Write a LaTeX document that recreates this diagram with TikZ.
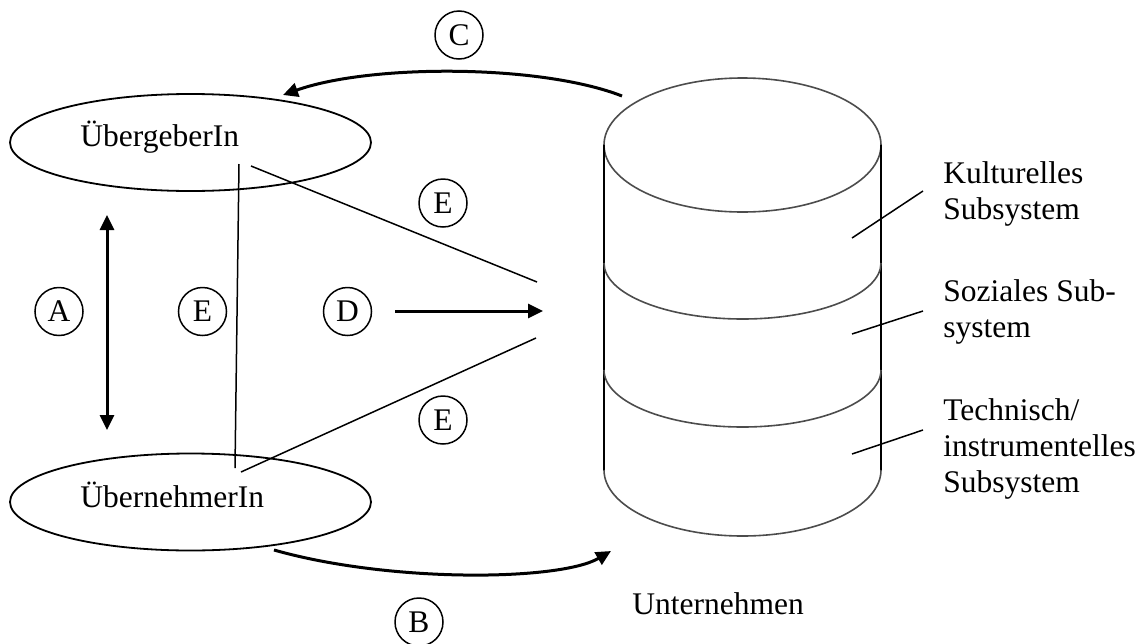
\documentclass[tikz,border=0pt]{standalone}
\usepackage{fontspec}
\setmainfont{Liberation Serif}
\usetikzlibrary{arrows.meta,shapes.geometric}

\begin{document}
\begin{tikzpicture}[x=0.5pt,y=-0.5pt,font=\fontsize{15.75}{18}\selectfont,
  party/.style={ellipse,draw,line width=0.9pt,minimum width=180.5pt,minimum height=48.5pt,inner sep=0pt},
  letter/.style={circle,draw,line width=0.75pt,minimum size=24pt,inner sep=0pt},
  txt/.style={anchor=base west,inner sep=0pt,align=left},
  tip/.tip={Triangle[length=7.5pt,width=7pt]},
  flow/.style={line width=1.5pt,-tip},
  link/.style={line width=0.75pt},
  rim/.style={black!70,line width=0.8pt}]
\useasboundingbox (0,0) rectangle (1141,643);

\node[party] (geber) at (190.5,142.5) {};
\node[txt] (geberlbl) at (80,146) {ÜbergeberIn};
\node[party] (nehmer) at (190.5,502) {};
\node[txt] (nehmerlbl) at (80,507) {ÜbernehmerIn};

\draw[rim] (742.5,145) ellipse [x radius=69.25pt,y radius=33.5pt];
\draw[line width=0.9pt] (604,145) -- (604,470) (881,145) -- (881,470);
\draw[rim] (604,263) arc[start angle=180,end angle=360,x radius=69.25pt,y radius=28pt];
\draw[rim] (604,370) arc[start angle=180,end angle=360,x radius=69.25pt,y radius=28.5pt];
\draw[rim] (604,470) arc[start angle=180,end angle=360,x radius=69.25pt,y radius=33pt];
\node[txt] (firm) at (632,614) {Unternehmen};

% base of a multi-line node sits on its last line
\node[txt] (kult) at (943,219) {Kulturelles\\Subsystem};
\node[txt] (sozial) at (943,337) {Soziales Sub-\\system};
\node[txt] (technik) at (943,492) {Technisch/\\instrumentelles\\Subsystem};
\coordinate (kultin) at (852,238);
\coordinate (sozialin) at (852,334);
\coordinate (technikin) at (852,454);
\draw[link] (kultin) -- (923,191);
\draw[link] (sozialin) -- (923,311);
\draw[link] (technikin) -- (923,430);

\node[letter] (a) at (59,311.5) {A};
\node[letter] (e1) at (202.5,311.5) {E};
\node[letter] (d) at (347.5,311.5) {D};
\node[letter] (c) at (459,35) {C};
\node[letter] (e2) at (443,203) {E};
\node[letter] (e3) at (443,420) {E};
\node[letter] (b) at (419,622) {B};

\coordinate (atop) at (107,215);
\coordinate (abot) at (107,430);
\coordinate (cfrom) at (622,96);
\coordinate (cto) at (283,95);
\coordinate (bfrom) at (274,550);
\coordinate (bto) at (611,551);
\coordinate (dfrom) at (395,311);
\coordinate (dto) at (543,311);
\coordinate (gout) at (239,164);
\coordinate (gout2) at (251,166);
\coordinate (nin) at (235,468);
\coordinate (nout) at (241,472);
\coordinate (fup) at (537,282);
\coordinate (flow) at (536,338);

\draw[line width=1.5pt,tip-tip] (atop) -- (abot);
\draw[flow] (cfrom) .. controls (540,64) and (370,64) .. (cto);
\draw[flow] (bfrom) .. controls (390,583) and (560,581) .. (bto);
\draw[flow] (dfrom) -- (dto);
\draw[link] (gout) -- (nin);
\draw[link] (gout2) -- (fup);
\draw[link] (nout) -- (flow);
\end{tikzpicture}
\end{document}
